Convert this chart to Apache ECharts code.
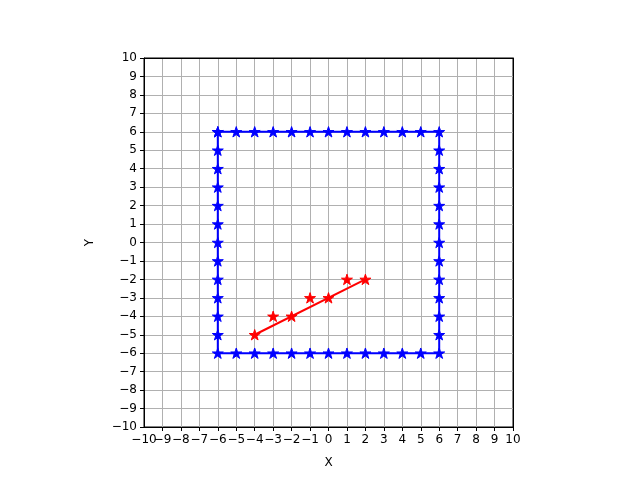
<!DOCTYPE html>
<html><head><meta charset="utf-8">
<script src="https://cdn.jsdelivr.net/npm/echarts@6/dist/echarts.min.js"></script>
<style>html,body{margin:0;padding:0;background:#fff}#c{width:640px;height:480px}</style>
</head><body><div id="c"></div>
<script>
const squareX = [-6,-5,-4,-3,-2,-1,0,1,2,3,4,5,6, 6,6,6,6,6,6,6,6,6,6,6,6, 5,4,3,2,1,0,-1,-2,-3,-4,-5,-6, -6,-6,-6,-6,-6,-6,-6,-6,-6,-6,-6,-6];
const squareY = [6,6,6,6,6,6,6,6,6,6,6,6,6, 5,4,3,2,1,0,-1,-2,-3,-4,-5,-6, -6,-6,-6,-6,-6,-6,-6,-6,-6,-6,-6,-6, -5,-4,-3,-2,-1,0,1,2,3,4,5,6];
const lineX = [-4, 2];
const lineY = [-5, -2];
const ptsX = [-4,-3,-2,-1,0,1,2];
const ptsY = [-5,-4,-4,-3,-3,-2,-2];
const axisMin = -10, axisMax = 10;

const star = 'path://M0,-1 L0.2245,-0.309 L0.951,-0.309 L0.363,0.118 L0.588,0.809 L0,0.382 L-0.588,0.809 L-0.363,0.118 L-0.951,-0.309 L-0.2245,-0.309 Z';
const fmt = v => (v < 0 ? '\u2212' + (-v) : String(v));
const zip = (a, b) => a.map((v, i) => [v, b[i]]);

const axisCommon = {
  type: 'value', min: axisMin, max: axisMax, interval: 1,
  axisLine: { show: true, onZero: false, lineStyle: { color: '#000', width: 1 } },
  axisTick: { show: true, inside: false, length: 4, lineStyle: { color: '#000' } },
  axisLabel: { color: '#000', fontSize: 12, fontFamily: 'DejaVu Sans', formatter: fmt, margin: 7,
    showMinLabel: true, showMaxLabel: true, hideOverlap: false },
  splitLine: { show: true, lineStyle: { color: '#b0b0b0', width: 1 } },
  nameTextStyle: { color: '#000', fontSize: 12, fontFamily: 'DejaVu Sans' }
};
const spine = pos => Object.assign({}, axisCommon, { position: pos, axisTick: { show: false },
  axisLabel: { show: false }, splitLine: { show: false } });

const chart = echarts.init(document.getElementById('c'), null, { renderer: 'canvas' });
chart.setOption({
  animation: false,
  grid: { left: 144, right: 127, top: 58, bottom: 53, show: true, borderColor: '#000', borderWidth: 1, backgroundColor: 'transparent' },
  xAxis: [
    Object.assign({}, axisCommon, { name: 'X', nameLocation: 'middle', nameGap: 30,
      axisLabel: Object.assign({}, axisCommon.axisLabel, { showMinLabel: false }) }),
    Object.assign({}, axisCommon, { interval: 20, position: 'bottom',
      axisLine: { show: false }, axisTick: { show: false }, splitLine: { show: false },
      axisLabel: Object.assign({}, axisCommon.axisLabel, { formatter: v => (v === axisMin ? fmt(v) : '') }) }),
    spine('top')
  ],
  yAxis: [
    Object.assign({}, axisCommon, { name: 'Y', nameLocation: 'middle', nameGap: 48, nameRotate: 90 }),
    spine('right')
  ],
  series: [
    { type: 'line', data: zip(squareX, squareY), showSymbol: true, symbol: star, symbolSize: 11, symbolKeepAspect: true,
      lineStyle: { color: '#0000ff', width: 2 }, itemStyle: { color: '#0000ff', borderColor: '#0000ff', borderWidth: 1 }, z: 3 },
    { type: 'line', data: zip(lineX, lineY), showSymbol: false, symbol: 'none',
      lineStyle: { color: '#ff0000', width: 2 }, z: 3 },
    { type: 'scatter', data: zip(ptsX, ptsY), symbol: star, symbolSize: 11, symbolKeepAspect: true,
      itemStyle: { color: '#ff0000', borderColor: '#ff0000', borderWidth: 1, opacity: 1 }, z: 4 }
  ]
});
</script></body></html>
